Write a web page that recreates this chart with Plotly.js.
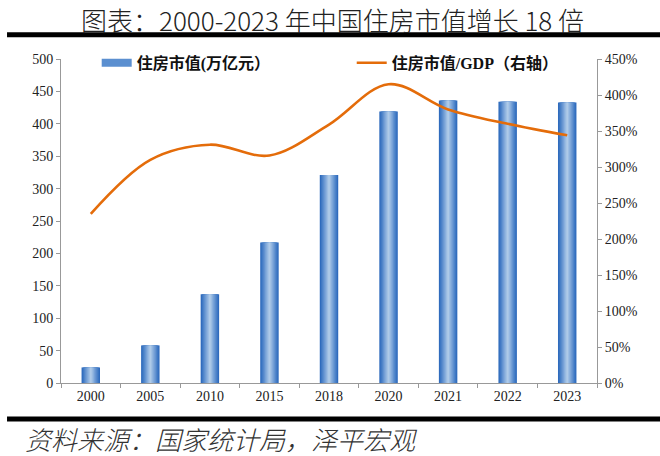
<!DOCTYPE html>
<html>
<head>
<meta charset="utf-8">
<script src="https://cdn.plot.ly/plotly-3.0.1.min.js"></script>
<style>html,body{margin:0;padding:0;background:#fff;}#chart{width:660px;height:456px;}</style>
</head>
<body>
<div id="chart"></div>
<script>
// ---- data ----
var years = ['2000','2005','2010','2015','2018','2020','2021','2022','2023'];
var housingValue = [24, 58, 137, 217, 321, 419, 436, 434, 433];      // 万亿元
var ratioToGDP = [2.35, 3.10, 3.31, 3.16, 3.59, 4.15, 3.80, 3.60, 3.44]; // 住房市值/GDP

var barName = '住房市值(万亿元）';
var lineName = '住房市值/GDP（右轴）';

// ---- gradient bar layers (same data, narrower & lighter) ----
var layerWidths = [0.31, 0.27, 0.23, 0.19, 0.15, 0.11, 0.07, 0.03];
var layerColors = ['#2f6bbd','#3f78c3','#5085ca','#6393d0','#76a1d7','#89afdd','#9cbde3','#aecae8'];

var traces = [];
layerWidths.forEach(function(w, i){
  traces.push({
    type: 'bar', x: years, y: housingValue, width: w,
    marker: {color: layerColors[i], line: {width: 0}},
    showlegend: false, hoverinfo: 'skip', yaxis: 'y'
  });
});
// legend entry for bars
traces.push({
  type: 'scatter', mode: 'lines', x: [null], y: [null],
  name: barName, line: {color: '#5b8fd0', width: 8}, legend: 'legend'
});
traces.push({
  type: 'scatter', mode: 'lines', x: years, y: ratioToGDP, yaxis: 'y2',
  name: lineName, line: {color: '#E46C0A', width: 2.6, shape: 'spline', smoothing: 1},
  legend: 'legend2'
});

var tickFont = {family: 'Liberation Serif, serif', size: 14, color: '#222'};
var legFont = {family: 'Liberation Serif, Noto Sans CJK SC', size: 16, color: '#111', weight: 'bold'};
var axisGray = '#999';

var layout = {
  width: 660, height: 456,
  margin: {l: 61, r: 63, t: 59, b: 73, pad: 0},
  paper_bgcolor: '#fff', plot_bgcolor: '#fff',
  barmode: 'overlay',
  showlegend: true,
  xaxis: {
    type: 'category', showline: true, linecolor: axisGray, linewidth: 1,
    ticks: 'outside', ticklen: 4, tickcolor: axisGray, tickson: 'boundaries',
    showgrid: false, zeroline: false, tickfont: tickFont, fixedrange: true
  },
  yaxis: {
    range: [0, 500], dtick: 50, showline: true, linecolor: axisGray, linewidth: 1,
    ticks: 'outside', ticklen: 4, tickcolor: axisGray, showgrid: false, zeroline: false,
    tickfont: tickFont, fixedrange: true
  },
  yaxis2: {
    overlaying: 'y', side: 'right', range: [0, 4.5], dtick: 0.5, tickformat: '.0%',
    showline: true, linecolor: axisGray, linewidth: 1, ticks: 'outside', ticklen: 4,
    tickcolor: axisGray, showgrid: false, zeroline: false, tickfont: tickFont, fixedrange: true
  },
  legend: {
    orientation: 'h', x: 0.0666, xanchor: 'left', y: 0.988, yanchor: 'middle',
    bgcolor: 'rgba(0,0,0,0)', font: legFont, itemwidth: 30
  },
  legend2: {
    orientation: 'h', x: 0.5424, xanchor: 'left', y: 0.988, yanchor: 'middle',
    bgcolor: 'rgba(0,0,0,0)', font: legFont, itemwidth: 30
  },
  shapes: [
    {type: 'line', xref: 'paper', yref: 'paper', x0: -0.1007, x1: 1.12, y0: 1.0745, y1: 1.0745,
     line: {color: '#000', width: 5}},
    {type: 'line', xref: 'paper', yref: 'paper', x0: -0.1007, x1: 1.12, y0: -0.111, y1: -0.111,
     line: {color: '#000', width: 5}}
  ],
  annotations: [
    {xref: 'paper', yref: 'paper', x: 0.507, y: 1.121, xanchor: 'center', yanchor: 'middle',
     showarrow: false, text: '图表：2000-2023 年中国住房市值增长 18 倍',
     font: {family: 'Noto Sans CJK SC, sans-serif', size: 26, color: '#222', weight: 300}},
    {xref: 'paper', yref: 'paper', x: -0.07, y: -0.172, xanchor: 'left', yanchor: 'middle',
     showarrow: false, text: '资料来源：国家统计局，泽平宏观',
     font: {family: 'Noto Sans CJK SC, sans-serif', size: 26, color: '#333', style: 'italic', weight: 300}}
  ]
};

Plotly.newPlot('chart', traces, layout, {staticPlot: true, displayModeBar: false});
</script>
</body>
</html>
